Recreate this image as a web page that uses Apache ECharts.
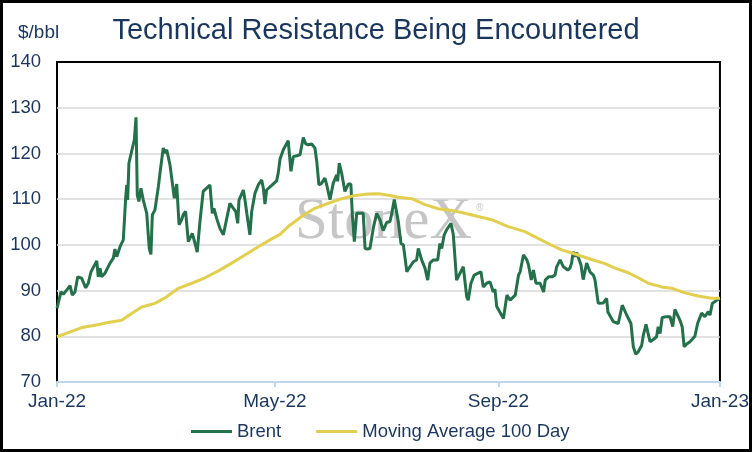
<!DOCTYPE html>
<html>
<head>
<meta charset="utf-8">
<script src="https://cdn.jsdelivr.net/npm/echarts@6/dist/echarts.min.js"></script>
<style>
  html, body { margin: 0; padding: 0; background: #fff; }
  #main { width: 752px; height: 452px; }
</style>
</head>
<body>
<div id="main"></div>
<script>
// days since 1 Jan 2022, $/bbl
const brent = [
  [0,86.1],[2.2,89.7],[3.5,89.2],[5.3,90.1],[7.2,91.1],[8.4,89.0],[9.9,89.7],[11.4,93.0],[13.6,92.7],[15.8,90.6],
  [17.2,91.6],[18.7,94.1],[21.9,96.5],[22.7,93.0],[23.7,94.9],[24.6,93.0],[26.4,93.8],[29.2,96.0],[31.0,97.1],[31.9,99.1],
  [32.9,97.4],[34.7,99.6],[36.5,101.1],[37.8,110.2],[38.4,113.1],[38.9,109.8],[39.6,117.9],[42.6,123.0],[43.5,127.9],[44.2,110.9],
  [45.1,109.5],[46.2,112.4],[47.5,109.8],[49.4,106.9],[50.8,99.2],[51.7,97.9],[52.5,106.6],[53.9,107.6],[55.8,112.7],[56.7,115.7],
  [57.6,115.3],[58.5,121.2],[59.5,120.1],[60.4,120.8],[62.2,117.5],[64.6,110.2],[65.9,113.3],[67.2,104.4],[68.6,105.5],[69.5,106.6],
  [70.8,107.3],[72.3,100.7],[73.2,100.3],[74.5,102.5],[76.0,100.3],[77.2,98.4],[78.7,105.1],[80.5,111.7],[82.4,112.4],[84.2,113.1],
  [85.5,106.9],[86.4,108.0],[87.9,105.8],[89.7,103.6],[91.6,102.2],[92.9,104.7],[95.2,109.1],[97.1,108.0],[98.4,107.3],[99.5,104.7],
  [100.2,109.8],[102.6,112.0],[103.5,109.8],[104.5,106.9],[106.2,102.2],[107.2,107.3],[108.1,107.4],[109.0,111.3],[110.8,113.1],[112.7,114.2],
  [113.6,112.4],[114.5,108.9],[115.4,112.0],[118.2,113.0],[120.9,114.0],[121.8,115.7],[122.8,118.8],[124.6,120.8],[127.3,122.8],[128.8,116.1],
  [130.1,119.3],[132.0,119.5],[133.8,119.7],[135.6,123.5],[136.9,122.1],[138.3,121.9],[140.2,122.1],[142.0,121.2],[143.0,118.3],[144.2,113.1],
  [145.7,113.5],[147.5,114.6],[148.5,113.1],[150.3,109.9],[152.1,113.5],[154.0,115.3],[154.5,113.9],[155.4,117.9],[156.7,115.7],[158.5,111.7],
  [160.4,113.3],[161.8,113.3],[162.6,106.6],[163.7,100.7],[165.0,106.9],[167.4,106.9],[168.6,106.9],[169.6,99.2],[171.0,99.1],[172.3,99.2],
  [174.1,103.6],[176.0,106.9],[177.8,105.5],[179.6,103.1],[181.5,104.9],[183.3,105.1],[184.2,106.6],[185.7,109.9],[186.5,110.2],[187.9,105.1],
  [189.4,100.3],[190.7,100.0],[192.6,94.1],[194.3,95.2],[196.2,96.3],[198.0,96.7],[198.9,99.2],[200.8,96.7],[202.6,94.9],[204.1,92.3],
  [205.3,96.0],[207.2,96.7],[209.6,96.7],[210.8,100.3],[211.8,99.2],[213.2,102.2],[214.5,103.3],[216.9,104.7],[218.2,102.2],[220.0,92.3],
  [221.9,93.8],[223.7,95.2],[225.6,88.6],[226.4,87.9],[227.9,91.6],[229.7,93.4],[231.9,93.8],[233.4,94.1],[234.7,90.8],[236.5,91.6],
  [238.4,91.9],[240.2,89.7],[241.1,90.3],[242.1,86.5],[243.8,85.3],[245.8,83.9],[247.7,89.0],[249.5,87.9],[252.3,89.0],[254.1,93.4],
  [255.0,94.1],[256.8,97.8],[258.7,96.7],[259.6,95.6],[261.1,92.3],[262.3,94.5],[263.7,91.6],[266.0,91.6],[267.9,89.7],[268.8,92.3],
  [270.6,93.0],[272.5,93.0],[274.2,93.4],[275.1,95.2],[277.0,96.7],[278.8,95.2],[281.2,94.5],[282.4,94.9],[283.3,96.0],[284.2,98.5],
  [285.2,97.4],[286.1,98.3],[288.5,95.6],[289.7,92.4],[291.6,96.0],[293.4,94.1],[295.3,93.4],[296.2,92.3],[298.0,87.2],[300.8,87.3],
  [302.6,88.3],[303.3,85.3],[304.4,85.0],[306.3,83.2],[309.0,82.8],[311.2,86.8],[313.7,84.6],[316.0,82.8],[317.3,77.7],[318.6,76.1],
  [320.0,76.6],[321.9,78.0],[322.8,80.2],[324.3,82.6],[326.5,78.8],[328.3,79.3],[330.1,79.9],[331.0,82.1],[332.0,80.6],[333.2,84.1],
  [335.7,84.3],[337.5,84.3],[339.0,82.1],[340.2,85.9],[341.7,84.6],[343.0,83.5],[344.2,82.1],[345.3,77.7],[346.7,78.3],[348.5,78.8],
  [351.2,80.0],[352.7,82.8],[354.9,85.1],[356.7,84.3],[358.6,85.4],[359.5,84.6],[360.8,87.2],[363.2,87.9],[365,88.3]
];

const movingAvg100 = [
  [0,79.9],[6.2,80.8],[13.6,81.9],[20.9,82.4],[28.2,83.0],[35.6,83.5],[41.1,85.0],[46.6,86.4],[53.9,87.2],[59.5,88.4],
  [66.8,90.5],[74.2,91.6],[81.5,92.8],[88.8,94.3],[96.2,96.0],[103.5,97.8],[110.8,99.6],[118.2,101.3],[122.8,102.3],[127.3,104.0],
  [134.7,106.2],[142.0,108.0],[149.4,109.1],[156.7,110.1],[164.0,110.8],[171.4,111.1],[176.9,111.2],[183.3,110.8],[187.9,110.4],[195.3,110.1],
  [202.6,108.8],[209.9,107.9],[217.3,107.5],[224.6,106.9],[231.9,106.2],[239.3,105.5],[248.4,104.0],[257.6,102.9],[264.9,101.4],[270.4,100.3],
  [277.8,98.9],[285.2,98.0],[294.3,96.8],[301.7,95.9],[307.2,94.9],[314.5,93.9],[320.0,92.8],[325.5,91.6],[332.9,90.8],[338.4,90.5],
  [345.7,89.5],[353.0,88.8],[360.4,88.3],[365,88.3]
];

const tickDays = [0, 120, 243, 365];
const tickLabels = ['Jan-22', 'May-22', 'Sep-22', 'Jan-23'];

const navy = '#1b365d';
const font = 'Liberation Sans, Arial, sans-serif';

var chart = echarts.init(document.getElementById('main'));
chart.setOption({
  animation: false,
  backgroundColor: '#fff',
  title: {
    text: 'Technical Resistance Being Encountered',
    left: 'center',
    top: 11,
    textStyle: { color: navy, fontSize: 29, fontWeight: 'normal', fontFamily: font }
  },
  legend: {
    left: 186,
    top: 417,
    icon: 'rect',
    itemWidth: 41,
    itemHeight: 3,
    itemGap: 35,
    textStyle: { color: navy, fontSize: 18.5, fontFamily: font },
    data: ['Brent', 'Moving Average 100 Day']
  },
  grid: {
    left: 57, right: 31, top: 62, bottom: 70,
    show: true,
    borderColor: '#000',
    borderWidth: 2
  },
  xAxis: {
    type: 'value',
    min: 0,
    max: 365,
    splitLine: { show: false },
    axisLine: { lineStyle: { color: '#bdd7ee', width: 2 } },
    axisTick: { customValues: tickDays, length: 5, lineStyle: { color: '#bdd7ee', width: 2 } },
    axisLabel: {
      customValues: tickDays,
      margin: 10,
      color: navy,
      fontSize: 19,
      fontFamily: font,
      formatter: function (v) { return tickLabels[tickDays.indexOf(v)]; }
    }
  },
  yAxis: {
    type: 'value',
    min: 70,
    max: 140,
    interval: 10,
    axisLine: { show: false },
    axisTick: { show: false },
    axisLabel: { margin: 16, color: navy, fontSize: 18.5, fontFamily: font },
    splitLine: { showMinLine: false, showMaxLine: false, lineStyle: { color: '#d9d9d9', width: 1.5 } }
  },
  graphic: [
    {
      type: 'text', z: 0, x: 295, y: 222,
      style: { text: 'StoneX', font: '59px "Liberation Serif", "Times New Roman", serif', fill: '#c6c6c6', textAlign: 'left', textVerticalAlign: 'middle' }
    },
    {
      type: 'text', z: 0, x: 476, y: 208,
      style: { text: '\u00AE', font: '10px "Liberation Sans", sans-serif', fill: '#c6c6c6', textAlign: 'left', textVerticalAlign: 'middle' }
    },
    {
      type: 'text', x: 18, y: 33,
      style: { text: '$/bbl', font: '19px ' + font, fill: navy, textAlign: 'left', textVerticalAlign: 'middle' }
    },
    {
      type: 'rect', z: 100,
      shape: { x: 1.5, y: 1.5, width: 749, height: 449 },
      style: { fill: 'none', stroke: '#000', lineWidth: 3 }
    }
  ],
  series: [
    {
      name: 'Brent',
      type: 'line',
      data: brent,
      showSymbol: false,
      color: '#23704a',
      lineStyle: { width: 3, color: '#23704a' }
    },
    {
      name: 'Moving Average 100 Day',
      type: 'line',
      data: movingAvg100,
      showSymbol: false,
      color: '#e2cf4f',
      lineStyle: { width: 3, color: '#e2cf4f' }
    }
  ]
});
</script>
</body>
</html>
